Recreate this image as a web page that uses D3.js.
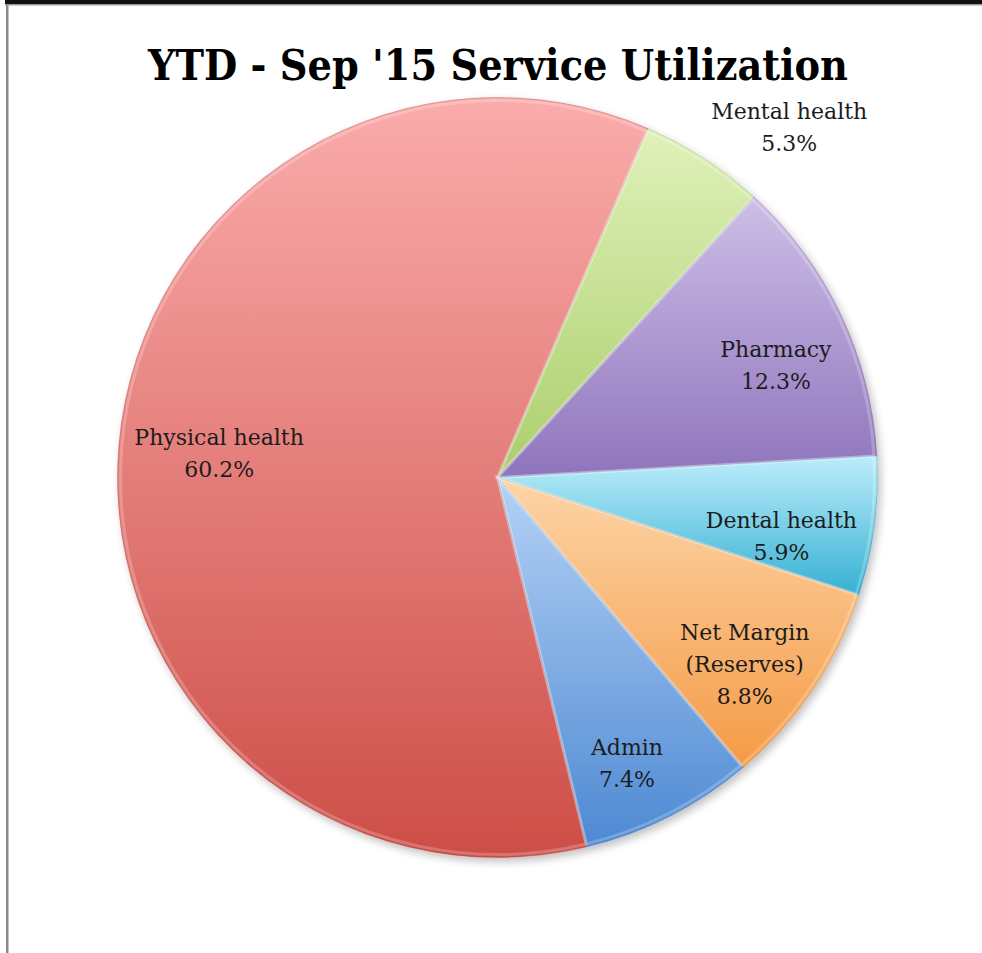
<!DOCTYPE html>
<html><head><meta charset="utf-8">
<script src="https://cdn.jsdelivr.net/npm/d3@7"></script>
<style>html,body{margin:0;padding:0;background:#fff;}svg{display:block;}</style>
</head><body>
<svg id="c" width="982" height="953"></svg>
<script>
const categories = ["Physical health","Mental health","Pharmacy","Dental health","Net Margin\n(Reserves)","Admin"];
const values = [60.2, 5.3, 12.3, 5.9, 8.8, 7.4];
const labelTexts = ["60.2%","5.3%","12.3%","5.9%","8.8%","7.4%"];
const topColors = ["#faacab","#e0f1ba","#cdbfe7","#bcedfb","#fdd5a8","#b5d2f5"];
const bottomColors = ["#cd4e47","#abce6c","#8f74bc","#36b0d3","#f59a45","#4d89d3"];
const titleText = "YTD - Sep '15 Service Utilization";

const svg = d3.select("#c");
const W = 982, H = 953;
svg.append("rect").attr("width",W).attr("height",H).attr("fill","#fff");
// frame
svg.append("rect").attr("x",6).attr("y",4).attr("width",2.5).attr("height",H-4).attr("fill","#8c8c8c");
svg.append("rect").attr("x",5).attr("y",0).attr("width",W-5).attr("height",4).attr("fill","#111");
svg.append("rect").attr("x",5).attr("y",4).attr("width",W-5).attr("height",1.5).attr("fill","#9a9a9a");

const cx = 497.5, cy = 477.5, R = 380;
const defs = svg.append("defs");
const f = defs.append("filter").attr("id","sh").attr("x","-10%").attr("y","-10%").attr("width","130%").attr("height","130%");
f.append("feGaussianBlur").attr("in","SourceAlpha").attr("stdDeviation",4);
f.append("feOffset").attr("dx",3).attr("dy",4).attr("result","b");
f.append("feComponentTransfer").append("feFuncA").attr("type","linear").attr("slope",0.25);
const m = f.append("feMerge"); m.append("feMergeNode"); m.append("feMergeNode").attr("in","SourceGraphic");

categories.forEach((c,i)=>{
  const g = defs.append("linearGradient").attr("id","g"+i)
    .attr("x1",0).attr("y1",0).attr("x2",0).attr("y2",1);
  g.append("stop").attr("offset","0%").attr("stop-color",topColors[i]);
  g.append("stop").attr("offset","100%").attr("stop-color",bottomColors[i]);
});

const start = -193.6*Math.PI/180;
const pie = d3.pie().sort(null).value(d=>d).startAngle(start).endAngle(start+2*Math.PI);
const arcs = pie(values);
const arc = d3.arc().innerRadius(0).outerRadius(R);
const gp = svg.append("g").attr("transform",`translate(${cx},${cy})`);
gp.append("g").attr("filter","url(#sh)").selectAll("path").data(arcs).join("path")
  .attr("d",arc).attr("fill",(d,i)=>`url(#g${i})`)
  .attr("stroke",(d,i)=>d3.color(bottomColors[i]).darker(0.4)).attr("stroke-width",0.8).attr("stroke-opacity",0.5);
// bevel highlight
const arcIn = d3.arc().innerRadius(0).outerRadius(R-3);
gp.append("g").selectAll("path").data(arcs).join("path")
  .attr("d",arcIn).attr("fill","none").attr("stroke","#fff").attr("stroke-opacity",0.22).attr("stroke-width",3);

// labels
const lines = categories.map((c,i)=>c.split("\n").concat([labelTexts[i]]));
const fs = 22, lh = 32;
const lg = gp.append("g").attr("font-family","'DejaVu Serif', serif").attr("font-size",fs).attr("fill","#1c1c1c").attr("text-anchor","middle");
const ctx = document.createElement("canvas").getContext("2d");
ctx.font = `${fs}px 'DejaVu Serif'`;
arcs.forEach((d,i)=>{
  const mid = (d.startAngle+d.endAngle)/2;
  const small = (d.endAngle-d.startAngle) < 0.35;
  const lr = small ? 1.2*R : 0.8*R;
  const la = small ? mid + 0.12 : mid + 0.03;
  let x = lr*Math.sin(la), y = -lr*Math.cos(la) + (small ? 0 : 10);
  const ls = lines[i];
  if (!small) {
    const hw = d3.max(ls, s=>ctx.measureText(s).width)/2;
    const edge = Math.sqrt(Math.max(0, R*R - y*y)) - 16;
    if (x - hw < -edge) x = -edge + hw;
    if (x + hw > edge) x = edge - hw;
  }
  const t = lg.append("text").attr("x",x).attr("y",y - (ls.length-1)*lh/2 + 8);
  ls.forEach((s,j)=>t.append("tspan").attr("x",x).attr("dy",j?lh:0).text(s));
});

svg.append("text").attr("x",498).attr("y",80).attr("text-anchor","middle")
  .attr("font-family","'DejaVu Serif', serif").attr("font-weight","bold").attr("font-size",42)
  .attr("textLength",700).attr("lengthAdjust","spacingAndGlyphs").attr("fill","#000").text(titleText);
</script>
</body></html>
